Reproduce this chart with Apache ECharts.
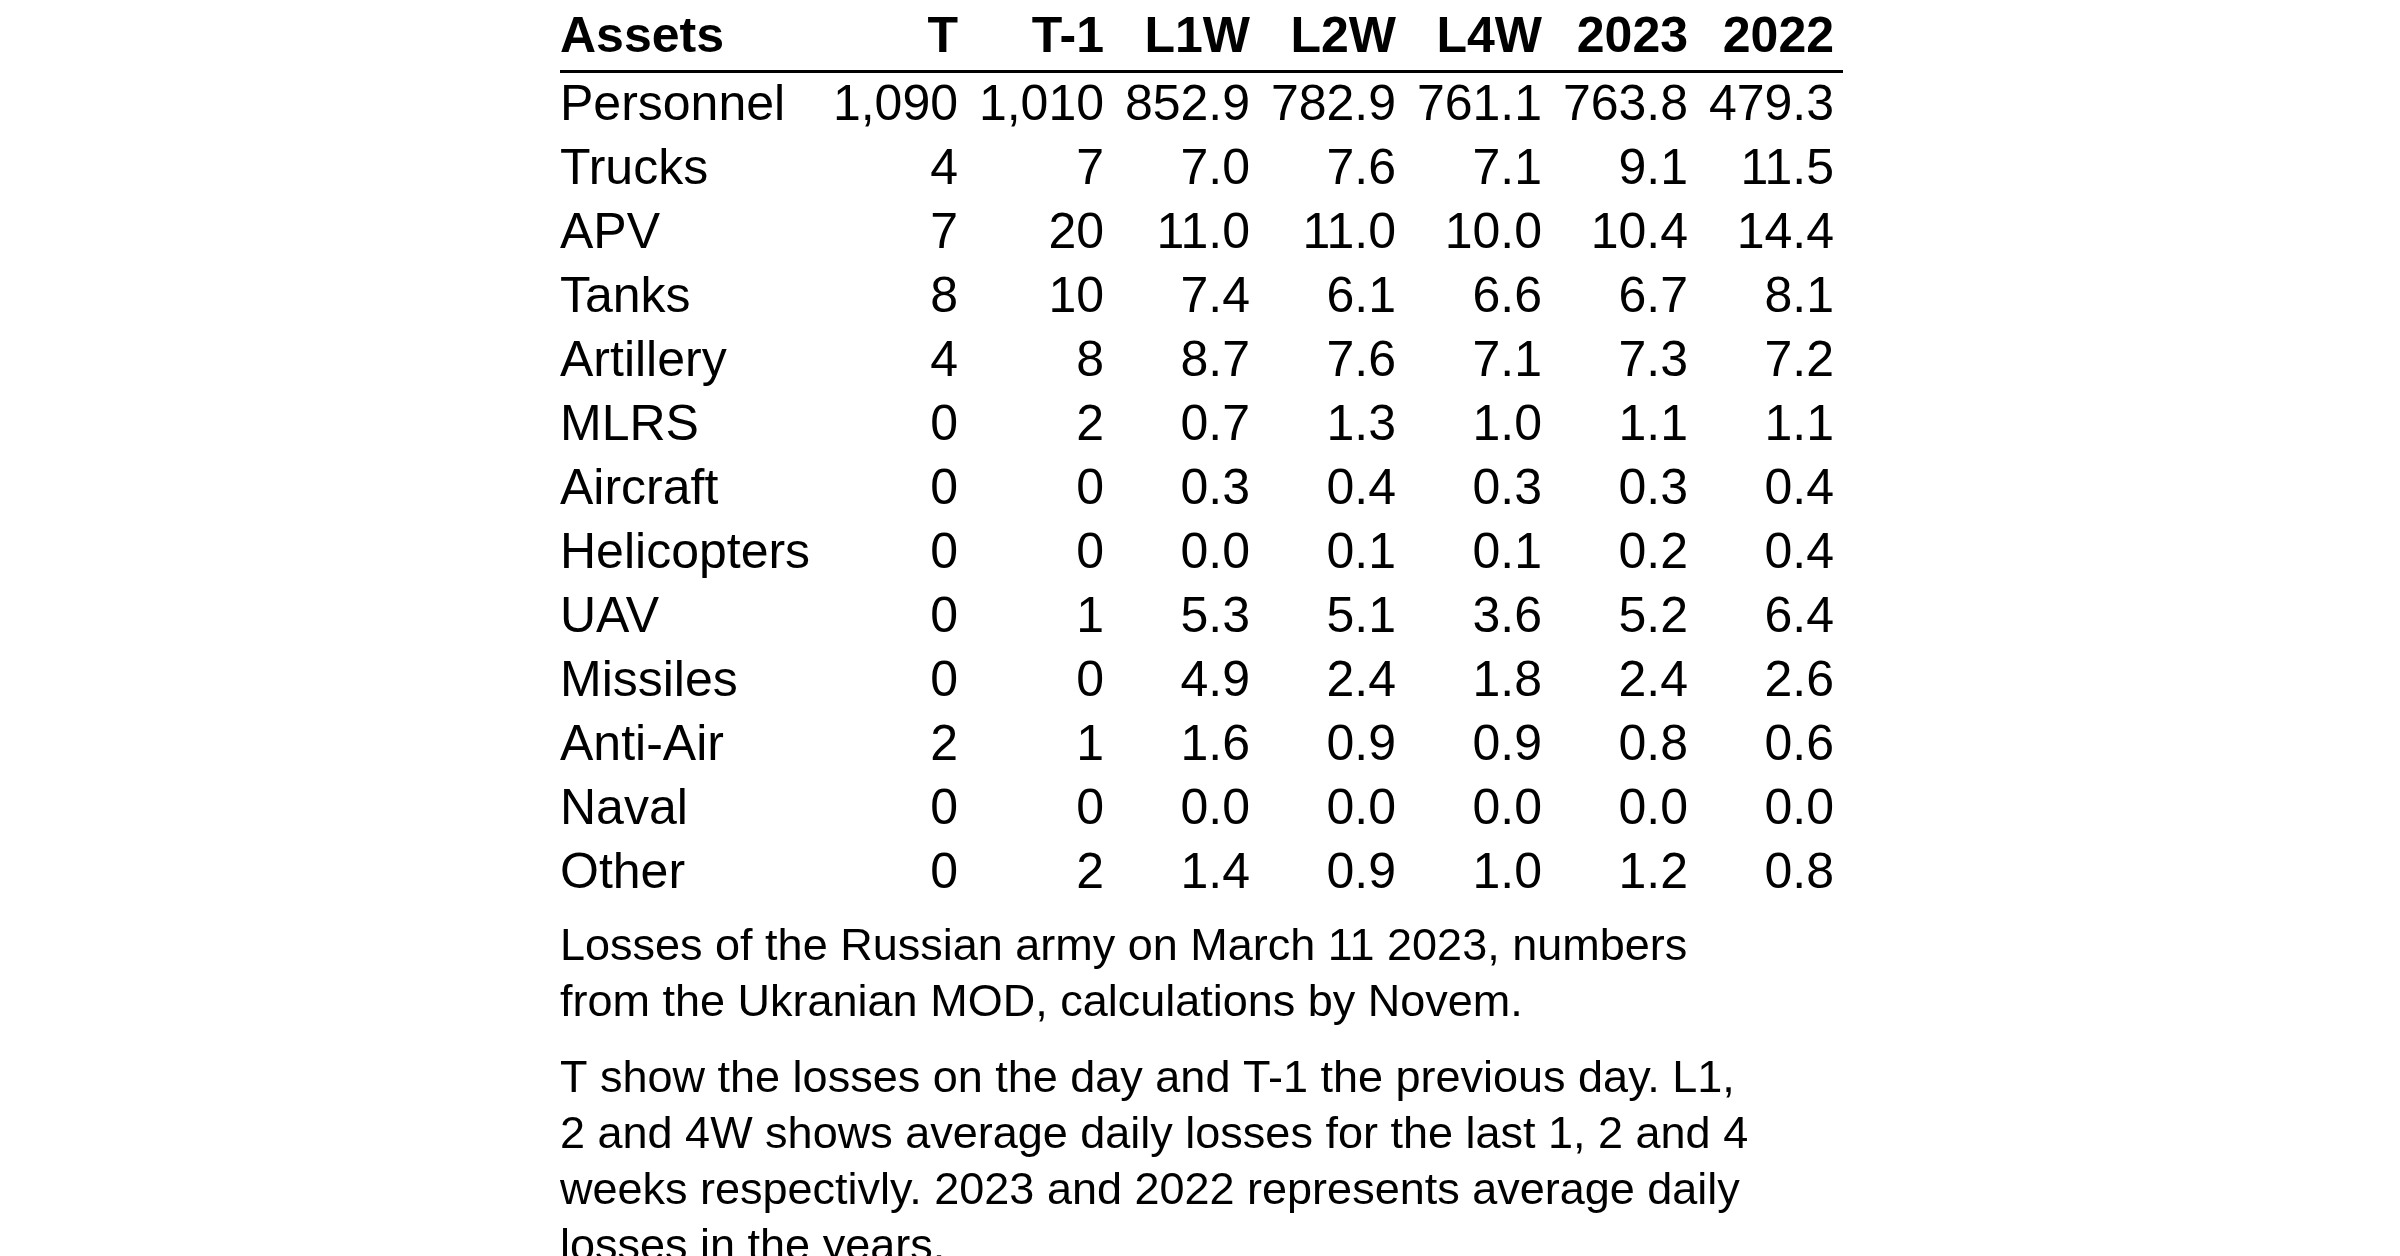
<!DOCTYPE html>
<html><head><meta charset="utf-8">
<script src="https://cdn.jsdelivr.net/npm/echarts@6/dist/echarts.min.js"></script>
<style>html,body{margin:0;background:#fff}#c{width:2400px;height:1256px}</style>
</head><body><div id="c"></div>
<script>
const columns = ['T', 'T-1', 'L1W', 'L2W', 'L4W', '2023', '2022'];
const assets = ['Personnel', 'Trucks', 'APV', 'Tanks', 'Artillery', 'MLRS', 'Aircraft',
  'Helicopters', 'UAV', 'Missiles', 'Anti-Air', 'Naval', 'Other'];
const values = [
  ['1,090', '1,010', '852.9', '782.9', '761.1', '763.8', '479.3'],
  ['4', '7', '7.0', '7.6', '7.1', '9.1', '11.5'],
  ['7', '20', '11.0', '11.0', '10.0', '10.4', '14.4'],
  ['8', '10', '7.4', '6.1', '6.6', '6.7', '8.1'],
  ['4', '8', '8.7', '7.6', '7.1', '7.3', '7.2'],
  ['0', '2', '0.7', '1.3', '1.0', '1.1', '1.1'],
  ['0', '0', '0.3', '0.4', '0.3', '0.3', '0.4'],
  ['0', '0', '0.0', '0.1', '0.1', '0.2', '0.4'],
  ['0', '1', '5.3', '5.1', '3.6', '5.2', '6.4'],
  ['0', '0', '4.9', '2.4', '1.8', '2.4', '2.6'],
  ['2', '1', '1.6', '0.9', '0.9', '0.8', '0.6'],
  ['0', '0', '0.0', '0.0', '0.0', '0.0', '0.0'],
  ['0', '2', '1.4', '0.9', '1.0', '1.2', '0.8']
];
const caption1 = ['Losses of the Russian army on March 11 2023, numbers',
  'from the Ukranian MOD, calculations by Novem.'];
const caption2 = ['T show the losses on the day and T-1 the previous day. L1,',
  '2 and 4W shows average daily losses for the last 1, 2 and 4',
  'weeks respectivly. 2023 and 2022 represents average daily',
  'losses in the years.'];

const font = 'Liberation Sans, Arial, sans-serif';
const HEADER_ROW = -1.06;

// cells: [col, row, text, kind]  col 0 = name column, 1..7 numbers
const cells = [[0, HEADER_ROW, 'Assets', 'h']];
columns.forEach((c, i) => cells.push([i + 1, HEADER_ROW, c, 'h']));
assets.forEach((a, r) => {
  cells.push([0, r, a, 'b']);
  values[r].forEach((v, i) => cells.push([i + 1, r, v, 'b']));
});

const chart = echarts.init(document.getElementById('c'));
const capText = (lines, top) => lines.map((t, i) => ({
  type: 'text', left: 560, top: top + i * 56,
  style: { text: t, font: '45px ' + font, fill: '#000' }
}));

chart.setOption({
  animation: false,
  backgroundColor: '#fff',
  grid: { left: 812, right: 566, top: 106, bottom: 382 },
  xAxis: { type: 'value', min: 0, max: 7, show: false },
  yAxis: { type: 'value', min: 0, max: 12, inverse: true, show: false },
  series: [{
    type: 'custom',
    data: cells,
    renderItem: (params, api) => {
      const col = api.value(0), p = api.coord([col, api.value(1)]);
      const d = cells[params.dataIndex];
      const bold = d[3] === 'h';
      return {
        type: 'text',
        x: col === 0 ? 560 : p[0], y: p[1],
        style: {
          text: d[2], fill: '#000',
          font: (bold ? 'bold ' : '') + '50px ' + font,
          align: col === 0 ? 'left' : 'right', verticalAlign: 'middle'
        }
      };
    }
  }],
  graphic: [
    { type: 'rect', shape: { x: 560, y: 70, width: 1283, height: 3 }, style: { fill: '#000' } },
    ...capText(caption1, 925),
    ...capText(caption2, 1057)
  ]
});
</script></body></html>
